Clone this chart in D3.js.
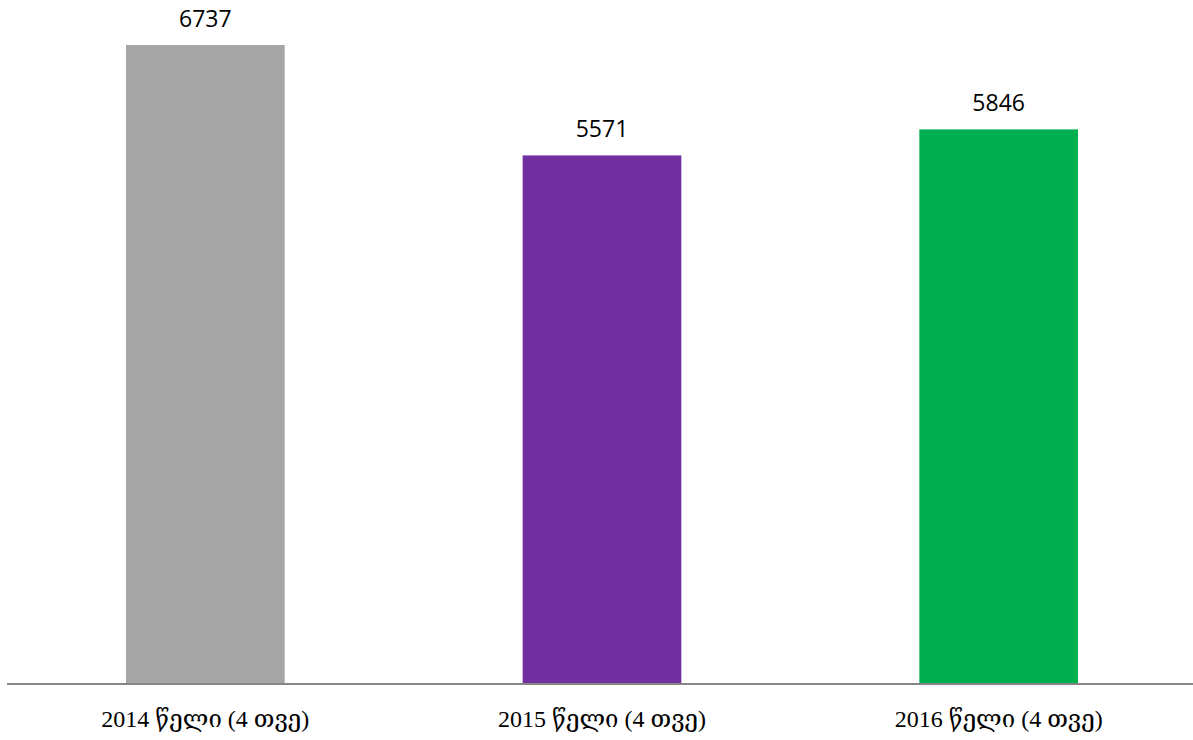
<!DOCTYPE html>
<html><head><meta charset="utf-8">
<script src="https://cdn.jsdelivr.net/npm/d3@7"></script>
<style>body{margin:0;background:#fff}svg{display:block}</style>
</head><body>
<svg id="c" width="1193" height="740"></svg>
<script>
const categories = ["2014 წელი (4 თვე)", "2015 წელი (4 თვე)", "2016 წელი (4 თვე)"];
const values = [6737, 5571, 5846];
const colors = ["#a6a6a6", "#7030a0", "#00b050"];

const svg = d3.select("#c");
const x = d3.scaleBand().domain(categories).range([7, 1197]).paddingInner(0.6).paddingOuter(0.3);
const y = d3.scaleLinear().domain([0, 6737]).range([683, 45]);

svg.selectAll("rect.bar").data(values).join("rect")
  .attr("class", "bar")
  .attr("x", (d, i) => x(categories[i]))
  .attr("width", x.bandwidth())
  .attr("y", d => y(d))
  .attr("height", d => y(0) - y(d))
  .attr("fill", (d, i) => colors[i]);

svg.selectAll("text.val").data(values).join("text")
  .attr("class", "val")
  .attr("x", (d, i) => x(categories[i]) + x.bandwidth() / 2)
  .attr("y", d => y(d) - 18)
  .attr("text-anchor", "middle")
  .attr("font-family", "Open Sans, Liberation Sans, sans-serif")
  .attr("font-size", 23)
  .attr("fill", "#000")
  .text(d => d);

const axis = svg.append("g").attr("transform", "translate(0,684)")
  .call(d3.axisBottom(x).tickSize(0).tickPadding(26));
axis.select(".domain").attr("stroke", "#868686").attr("stroke-width", 2).attr("d", "M7,0H1193");
axis.selectAll(".tick text")
  .attr("font-family", "Liberation Serif, DejaVu Serif, serif")
  .attr("font-size", 24)
  .attr("fill", "#000");
</script>
</body></html>
